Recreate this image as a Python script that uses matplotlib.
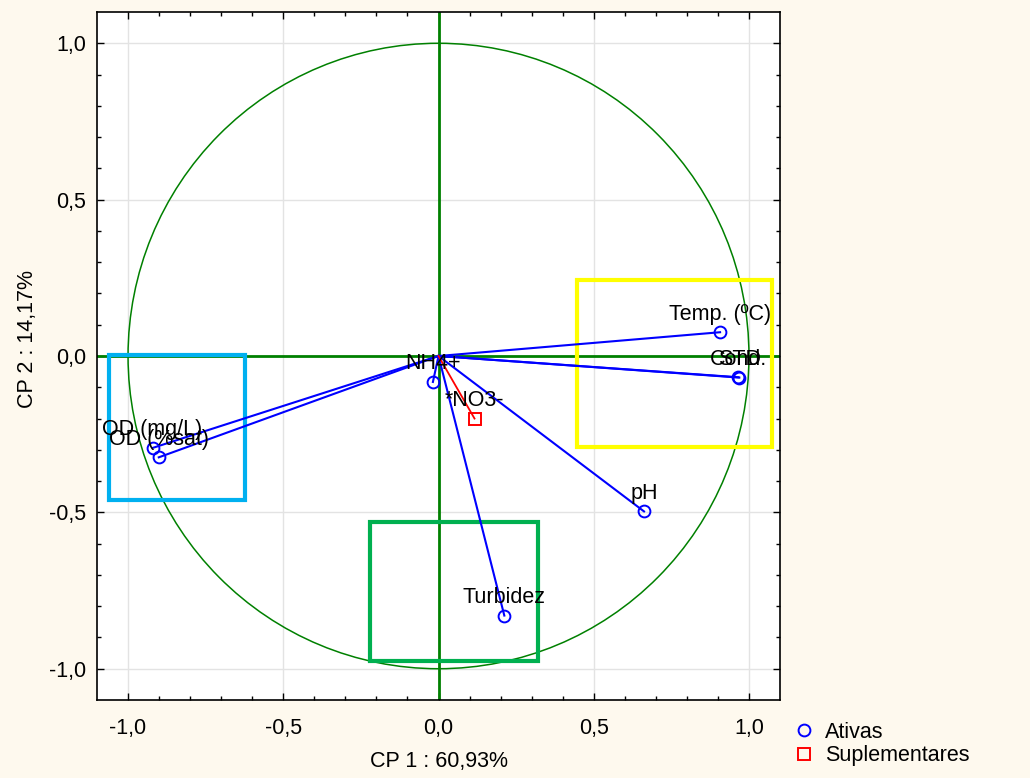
import numpy as np
import matplotlib
matplotlib.use("Agg")
import matplotlib.pyplot as plt
from matplotlib.patches import Rectangle, Circle

plt.rcParams['font.family'] = ['Liberation Sans', 'DejaVu Sans']

# Active variables (loadings on CP1, CP2)
active_names = ["Temp. (ºC)", "Cond.", "STD", "pH", "Turbidez", "NH4+", "OD (mg/L)", "OD (%sat)"]
active_cp1 = [0.907, 0.966, 0.969, 0.662, 0.212, -0.018, -0.921, -0.901]
active_cp2 = [0.076, -0.068, -0.069, -0.497, -0.830, -0.083, -0.294, -0.324]

# Supplementary variables
supp_names = ["*NO3-"]
supp_cp1 = [0.116]
supp_cp2 = [-0.200]

# Highlight boxes: (x_min, x_max, y_min, y_max)
box_yellow = [0.447, 1.074, -0.292, 0.244]
box_cyan = [-1.061, -0.624, -0.462, 0.002]
box_green = [-0.222, 0.322, -0.974, -0.532]

tick_vals = [-1.0, -0.5, 0.0, 0.5, 1.0]
tick_labels = ["-1,0", "-0,5", "0,0", "0,5", "1,0"]
xlabel = "CP 1 : 60,93%"
ylabel = "CP 2 : 14,17%"
legend_labels = ["Ativas", "Suplementares"]

FS = 15.5
fig = plt.figure(figsize=(10.30, 7.78), dpi=100, facecolor="#FEF9EE")
ax = fig.add_axes([97/1030, 1-700/778, (780-97)/1030, (700-12)/778])
ax.set_facecolor("white")
ax.set_xlim(-1.1, 1.1)
ax.set_ylim(-1.1, 1.1)

ax.set_xticks(tick_vals)
ax.set_xticklabels(tick_labels)
ax.set_yticks(tick_vals)
ax.set_yticklabels(tick_labels)
ax.set_xticks(np.arange(-1.0, 1.05, 0.1), minor=True)
ax.set_yticks(np.arange(-1.0, 1.05, 0.1), minor=True)
ax.tick_params(which="both", direction="in", top=True, right=True, labelsize=FS, colors="black")
ax.tick_params(which="major", length=5, width=1)
ax.tick_params(axis="y", which="major", pad=8)
ax.tick_params(axis="x", which="major", pad=13)
ax.tick_params(which="minor", length=3, width=1)
ax.grid(True, which="major", color="#e3e3e3", lw=1, zorder=0)
ax.set_axisbelow(True)
for s in ax.spines.values():
    s.set_linewidth(1.2)
    s.set_color("black")

# unit circle and axes through origin
ax.add_patch(Circle((0, 0), 1.0, fill=False, color="#008000", lw=1.1, zorder=2))
ax.axhline(0, color="#008000", lw=2, zorder=2)
ax.axvline(0, color="#008000", lw=2, zorder=2)

# boxes
for b, c in [(box_yellow, "#FFFF00"), (box_cyan, "#00B0F0"), (box_green, "#00B050")]:
    ax.add_patch(Rectangle((b[0], b[2]), b[1]-b[0], b[3]-b[2], fill=False, ec=c, lw=3, zorder=3))

# vectors
for x, y in zip(active_cp1, active_cp2):
    ax.plot([0, x], [0, y], color="#0000FF", lw=1.5, zorder=4)
for x, y in zip(supp_cp1, supp_cp2):
    ax.plot([0, x], [0, y], color="#FF0000", lw=1.3, zorder=4)

ax.plot(active_cp1, active_cp2, ls="none", marker="o", ms=8.5, mfc="none", mec="#0000FF",
        mew=1.4, zorder=5, label=legend_labels[0])
ax.plot(supp_cp1, supp_cp2, ls="none", marker="s", ms=8, mfc="none", mec="#FF0000",
        mew=1.4, zorder=5, label=legend_labels[1])

for n, x, y in zip(active_names + supp_names, active_cp1 + supp_cp1, active_cp2 + supp_cp2):
    ax.annotate(n, (x, y), xytext=(0, 13), textcoords="offset points", ha="center", va="center",
                fontsize=FS, color="black", zorder=6)

ax.set_xlabel(xlabel, fontsize=FS, va="center")
ax.xaxis.set_label_coords(0.5, (700-762)/688)
ax.set_ylabel(ylabel, fontsize=FS, va="center")
ax.yaxis.set_label_coords((27-97)/683, (700-339)/688)

h, l = ax.get_legend_handles_labels()
fig.legend(h, l, loc="upper left", bbox_to_anchor=(793/1030, 1-722/778), frameon=False,
           fontsize=FS, handlelength=1.0, handletextpad=0.5, borderpad=0, borderaxespad=0,
           labelspacing=0.1)

fig.savefig("out.png", dpi=100, facecolor=fig.get_facecolor())
